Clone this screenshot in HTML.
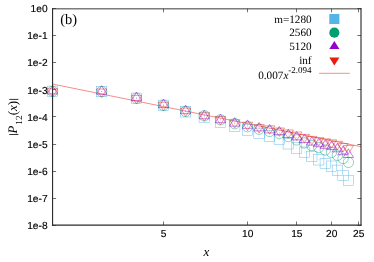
<!DOCTYPE html>
<html><head><meta charset="utf-8"><title>plot</title>
<style>
html,body{margin:0;padding:0;background:#fff;}
body{width:374px;height:262px;position:relative;overflow:hidden;font-family:"Liberation Sans",sans-serif;color:#000;}
</style></head><body>
<svg width="374" height="262" viewBox="0 0 374 262" style="position:absolute;left:0;top:0;will-change:transform;text-rendering:geometricPrecision">
<rect width="374" height="262" fill="#fff"/>
<g stroke="#333" stroke-width="0.7" fill="none">
<path d="M52.5 8.50h3.6M361.0 8.50h-3.6"/>
<path d="M52.5 35.50h3.6M361.0 35.50h-3.6"/>
<path d="M52.5 62.50h3.6M361.0 62.50h-3.6"/>
<path d="M52.5 89.50h3.6M361.0 89.50h-3.6"/>
<path d="M52.5 116.50h3.6M361.0 116.50h-3.6"/>
<path d="M52.5 144.50h3.6M361.0 144.50h-3.6"/>
<path d="M52.5 171.50h3.6M361.0 171.50h-3.6"/>
<path d="M52.5 198.50h3.6M361.0 198.50h-3.6"/>
<path d="M52.5 225.50h3.6M361.0 225.50h-3.6"/>
<path d="M163.50 225.1v-3.6M163.50 8.7v3.6"/>
<path d="M247.50 225.1v-3.6M247.50 8.7v3.6"/>
<path d="M296.50 225.1v-3.6M296.50 8.7v3.6"/>
<path d="M331.50 225.1v-3.6M331.50 8.7v3.6"/>
<path d="M358.50 225.1v-3.6M358.50 8.7v3.6"/>
</g>
<path d="M52.5 84.04L361.0 146.68" stroke="#E51E10" stroke-width="0.5" fill="none"/>
<g fill="none" stroke-width="0.44">
<rect x="47.29" y="86.10" width="10.4" height="10.4" stroke="#56B4E9"/>
<rect x="96.42" y="86.40" width="10.4" height="10.4" stroke="#56B4E9"/>
<rect x="131.27" y="93.05" width="10.4" height="10.4" stroke="#56B4E9"/>
<rect x="158.31" y="100.10" width="10.4" height="10.4" stroke="#56B4E9"/>
<rect x="180.40" y="106.60" width="10.4" height="10.4" stroke="#56B4E9"/>
<rect x="199.08" y="112.10" width="10.4" height="10.4" stroke="#56B4E9"/>
<rect x="215.26" y="116.90" width="10.4" height="10.4" stroke="#56B4E9"/>
<rect x="229.53" y="121.00" width="10.4" height="10.4" stroke="#56B4E9"/>
<rect x="242.30" y="124.80" width="10.4" height="10.4" stroke="#56B4E9"/>
<rect x="253.85" y="128.10" width="10.4" height="10.4" stroke="#56B4E9"/>
<rect x="264.39" y="130.80" width="10.4" height="10.4" stroke="#56B4E9"/>
<rect x="274.09" y="134.30" width="10.4" height="10.4" stroke="#56B4E9"/>
<rect x="283.07" y="138.60" width="10.4" height="10.4" stroke="#56B4E9"/>
<rect x="291.43" y="142.80" width="10.4" height="10.4" stroke="#56B4E9"/>
<rect x="299.25" y="147.00" width="10.4" height="10.4" stroke="#56B4E9"/>
<rect x="306.60" y="151.20" width="10.4" height="10.4" stroke="#56B4E9"/>
<rect x="313.52" y="154.60" width="10.4" height="10.4" stroke="#56B4E9"/>
<rect x="320.07" y="158.30" width="10.4" height="10.4" stroke="#56B4E9"/>
<rect x="326.29" y="161.00" width="10.4" height="10.4" stroke="#56B4E9"/>
<rect x="332.20" y="165.10" width="10.4" height="10.4" stroke="#56B4E9"/>
<rect x="337.84" y="170.20" width="10.4" height="10.4" stroke="#56B4E9"/>
<rect x="343.22" y="175.20" width="10.4" height="10.4" stroke="#56B4E9"/>
<circle cx="52.49" cy="91.30" r="5.2" stroke="#009E73"/>
<circle cx="101.62" cy="91.60" r="5.2" stroke="#009E73"/>
<circle cx="136.47" cy="98.20" r="5.2" stroke="#009E73"/>
<circle cx="163.51" cy="105.20" r="5.2" stroke="#009E73"/>
<circle cx="185.60" cy="111.40" r="5.2" stroke="#009E73"/>
<circle cx="204.28" cy="115.70" r="5.2" stroke="#009E73"/>
<circle cx="220.46" cy="119.80" r="5.2" stroke="#009E73"/>
<circle cx="234.73" cy="123.70" r="5.2" stroke="#009E73"/>
<circle cx="247.50" cy="126.70" r="5.2" stroke="#009E73"/>
<circle cx="259.05" cy="129.20" r="5.2" stroke="#009E73"/>
<circle cx="269.59" cy="131.40" r="5.2" stroke="#009E73"/>
<circle cx="279.29" cy="133.40" r="5.2" stroke="#009E73"/>
<circle cx="288.27" cy="136.50" r="5.2" stroke="#009E73"/>
<circle cx="296.63" cy="139.90" r="5.2" stroke="#009E73"/>
<circle cx="304.45" cy="143.00" r="5.2" stroke="#009E73"/>
<circle cx="311.80" cy="145.50" r="5.2" stroke="#009E73"/>
<circle cx="318.72" cy="147.60" r="5.2" stroke="#009E73"/>
<circle cx="325.27" cy="150.00" r="5.2" stroke="#009E73"/>
<circle cx="331.49" cy="152.30" r="5.2" stroke="#009E73"/>
<circle cx="337.40" cy="155.30" r="5.2" stroke="#009E73"/>
<circle cx="343.04" cy="158.50" r="5.2" stroke="#009E73"/>
<circle cx="348.42" cy="162.30" r="5.2" stroke="#009E73"/>
<path d="M52.49 85.48l-5.2 8.42h10.4z" stroke="#9400D3" stroke-width="0.52"/>
<path d="M101.62 85.78l-5.2 8.42h10.4z" stroke="#9400D3" stroke-width="0.52"/>
<path d="M136.47 92.28l-5.2 8.42h10.4z" stroke="#9400D3" stroke-width="0.52"/>
<path d="M163.51 99.18l-5.2 8.42h10.4z" stroke="#9400D3" stroke-width="0.52"/>
<path d="M185.60 105.28l-5.2 8.42h10.4z" stroke="#9400D3" stroke-width="0.52"/>
<path d="M204.28 110.40l-5.2 8.42h10.4z" stroke="#9400D3" stroke-width="0.52"/>
<path d="M220.46 114.30l-5.2 8.42h10.4z" stroke="#9400D3" stroke-width="0.52"/>
<path d="M234.73 117.70l-5.2 8.42h10.4z" stroke="#9400D3" stroke-width="0.52"/>
<path d="M247.50 119.90l-5.2 8.42h10.4z" stroke="#9400D3" stroke-width="0.52"/>
<path d="M259.05 122.50l-5.2 8.42h10.4z" stroke="#9400D3" stroke-width="0.52"/>
<path d="M269.59 124.50l-5.2 8.42h10.4z" stroke="#9400D3" stroke-width="0.52"/>
<path d="M279.29 126.50l-5.2 8.42h10.4z" stroke="#9400D3" stroke-width="0.52"/>
<path d="M288.27 129.10l-5.2 8.42h10.4z" stroke="#9400D3" stroke-width="0.52"/>
<path d="M296.63 131.50l-5.2 8.42h10.4z" stroke="#9400D3" stroke-width="0.52"/>
<path d="M304.45 134.20l-5.2 8.42h10.4z" stroke="#9400D3" stroke-width="0.52"/>
<path d="M311.80 136.70l-5.2 8.42h10.4z" stroke="#9400D3" stroke-width="0.52"/>
<path d="M318.72 138.30l-5.2 8.42h10.4z" stroke="#9400D3" stroke-width="0.52"/>
<path d="M325.27 139.90l-5.2 8.42h10.4z" stroke="#9400D3" stroke-width="0.52"/>
<path d="M331.49 141.20l-5.2 8.42h10.4z" stroke="#9400D3" stroke-width="0.52"/>
<path d="M337.40 143.40l-5.2 8.42h10.4z" stroke="#9400D3" stroke-width="0.52"/>
<path d="M343.04 146.30l-5.2 8.42h10.4z" stroke="#9400D3" stroke-width="0.52"/>
<path d="M348.42 149.10l-5.2 8.42h10.4z" stroke="#9400D3" stroke-width="0.52"/>
<path d="M52.49 97.12l-5.2 -8.42h10.4z" stroke="#E51E10"/>
<path d="M101.62 97.42l-5.2 -8.42h10.4z" stroke="#E51E10"/>
<path d="M136.47 103.82l-5.2 -8.42h10.4z" stroke="#E51E10"/>
<path d="M163.51 110.72l-5.2 -8.42h10.4z" stroke="#E51E10"/>
<path d="M185.60 116.52l-5.2 -8.42h10.4z" stroke="#E51E10"/>
<path d="M204.28 121.32l-5.2 -8.42h10.4z" stroke="#E51E10"/>
<path d="M220.46 124.82l-5.2 -8.42h10.4z" stroke="#E51E10"/>
<path d="M234.73 128.12l-5.2 -8.42h10.4z" stroke="#E51E10"/>
<path d="M247.50 130.62l-5.2 -8.42h10.4z" stroke="#E51E10"/>
<path d="M259.05 133.02l-5.2 -8.42h10.4z" stroke="#E51E10"/>
<path d="M269.59 134.22l-5.2 -8.42h10.4z" stroke="#E51E10"/>
<path d="M279.29 136.42l-5.2 -8.42h10.4z" stroke="#E51E10"/>
<path d="M288.27 138.42l-5.2 -8.42h10.4z" stroke="#E51E10"/>
<path d="M296.63 140.42l-5.2 -8.42h10.4z" stroke="#E51E10"/>
<path d="M304.45 142.82l-5.2 -8.42h10.4z" stroke="#E51E10"/>
<path d="M311.80 144.82l-5.2 -8.42h10.4z" stroke="#E51E10"/>
<path d="M318.72 146.02l-5.2 -8.42h10.4z" stroke="#E51E10"/>
<path d="M325.27 147.22l-5.2 -8.42h10.4z" stroke="#E51E10"/>
<path d="M331.49 148.22l-5.2 -8.42h10.4z" stroke="#E51E10"/>
<path d="M337.40 149.72l-5.2 -8.42h10.4z" stroke="#E51E10"/>
<path d="M343.04 152.02l-5.2 -8.42h10.4z" stroke="#E51E10"/>
<path d="M348.42 153.92l-5.2 -8.42h10.4z" stroke="#E51E10"/>
</g>
<g>
<circle cx="52.49" cy="91.30" r="0.45" fill="#56B4E9" fill-opacity="0.4"/>
<circle cx="52.49" cy="91.30" r="0.45" fill="#009E73" fill-opacity="0.4"/>
<circle cx="52.49" cy="91.30" r="0.45" fill="#9400D3" fill-opacity="0.4"/>
<circle cx="52.49" cy="91.30" r="0.45" fill="#E51E10" fill-opacity="0.4"/>
<circle cx="101.62" cy="91.60" r="0.45" fill="#56B4E9" fill-opacity="0.4"/>
<circle cx="101.62" cy="91.60" r="0.45" fill="#009E73" fill-opacity="0.4"/>
<circle cx="101.62" cy="91.60" r="0.45" fill="#9400D3" fill-opacity="0.4"/>
<circle cx="101.62" cy="91.60" r="0.45" fill="#E51E10" fill-opacity="0.4"/>
<circle cx="136.47" cy="98.25" r="0.45" fill="#56B4E9" fill-opacity="0.4"/>
<circle cx="136.47" cy="98.20" r="0.45" fill="#009E73" fill-opacity="0.4"/>
<circle cx="136.47" cy="98.10" r="0.45" fill="#9400D3" fill-opacity="0.4"/>
<circle cx="136.47" cy="98.00" r="0.45" fill="#E51E10" fill-opacity="0.4"/>
<circle cx="163.51" cy="105.30" r="0.45" fill="#56B4E9" fill-opacity="0.4"/>
<circle cx="163.51" cy="105.20" r="0.45" fill="#009E73" fill-opacity="0.4"/>
<circle cx="163.51" cy="105.00" r="0.45" fill="#9400D3" fill-opacity="0.4"/>
<circle cx="163.51" cy="104.90" r="0.45" fill="#E51E10" fill-opacity="0.4"/>
<circle cx="185.60" cy="111.80" r="0.45" fill="#56B4E9" fill-opacity="0.4"/>
<circle cx="185.60" cy="111.40" r="0.45" fill="#009E73" fill-opacity="0.4"/>
<circle cx="185.60" cy="111.10" r="0.45" fill="#9400D3" fill-opacity="0.4"/>
<circle cx="185.60" cy="110.70" r="0.45" fill="#E51E10" fill-opacity="0.4"/>
<circle cx="204.28" cy="117.30" r="0.45" fill="#56B4E9" fill-opacity="0.4"/>
<circle cx="204.28" cy="115.70" r="0.45" fill="#009E73" fill-opacity="0.4"/>
<circle cx="204.28" cy="116.22" r="0.45" fill="#9400D3" fill-opacity="0.4"/>
<circle cx="204.28" cy="115.50" r="0.45" fill="#E51E10" fill-opacity="0.4"/>
<circle cx="220.46" cy="122.10" r="0.45" fill="#56B4E9" fill-opacity="0.4"/>
<circle cx="220.46" cy="119.80" r="0.45" fill="#009E73" fill-opacity="0.4"/>
<circle cx="220.46" cy="120.12" r="0.45" fill="#9400D3" fill-opacity="0.4"/>
<circle cx="220.46" cy="119.00" r="0.45" fill="#E51E10" fill-opacity="0.4"/>
<circle cx="234.73" cy="126.20" r="0.45" fill="#56B4E9" fill-opacity="0.4"/>
<circle cx="234.73" cy="123.70" r="0.45" fill="#009E73" fill-opacity="0.4"/>
<circle cx="234.73" cy="123.52" r="0.45" fill="#9400D3" fill-opacity="0.4"/>
<circle cx="234.73" cy="122.30" r="0.45" fill="#E51E10" fill-opacity="0.4"/>
<circle cx="247.50" cy="130.00" r="0.45" fill="#56B4E9" fill-opacity="0.4"/>
<circle cx="247.50" cy="126.70" r="0.45" fill="#009E73" fill-opacity="0.4"/>
<circle cx="247.50" cy="125.72" r="0.45" fill="#9400D3" fill-opacity="0.4"/>
<circle cx="247.50" cy="124.80" r="0.45" fill="#E51E10" fill-opacity="0.4"/>
<circle cx="259.05" cy="133.30" r="0.45" fill="#56B4E9" fill-opacity="0.4"/>
<circle cx="259.05" cy="129.20" r="0.45" fill="#009E73" fill-opacity="0.4"/>
<circle cx="259.05" cy="128.32" r="0.45" fill="#9400D3" fill-opacity="0.4"/>
<circle cx="259.05" cy="127.20" r="0.45" fill="#E51E10" fill-opacity="0.4"/>
<circle cx="269.59" cy="136.00" r="0.45" fill="#56B4E9" fill-opacity="0.4"/>
<circle cx="269.59" cy="131.40" r="0.45" fill="#009E73" fill-opacity="0.4"/>
<circle cx="269.59" cy="130.32" r="0.45" fill="#9400D3" fill-opacity="0.4"/>
<circle cx="269.59" cy="128.40" r="0.45" fill="#E51E10" fill-opacity="0.4"/>
<circle cx="279.29" cy="139.50" r="0.45" fill="#56B4E9" fill-opacity="0.4"/>
<circle cx="279.29" cy="133.40" r="0.45" fill="#009E73" fill-opacity="0.4"/>
<circle cx="279.29" cy="132.32" r="0.45" fill="#9400D3" fill-opacity="0.4"/>
<circle cx="279.29" cy="130.60" r="0.45" fill="#E51E10" fill-opacity="0.4"/>
<circle cx="288.27" cy="143.80" r="0.45" fill="#56B4E9" fill-opacity="0.4"/>
<circle cx="288.27" cy="136.50" r="0.45" fill="#009E73" fill-opacity="0.4"/>
<circle cx="288.27" cy="134.92" r="0.45" fill="#9400D3" fill-opacity="0.4"/>
<circle cx="288.27" cy="132.60" r="0.45" fill="#E51E10" fill-opacity="0.4"/>
<circle cx="296.63" cy="148.00" r="0.45" fill="#56B4E9" fill-opacity="0.4"/>
<circle cx="296.63" cy="139.90" r="0.45" fill="#009E73" fill-opacity="0.4"/>
<circle cx="296.63" cy="137.32" r="0.45" fill="#9400D3" fill-opacity="0.4"/>
<circle cx="296.63" cy="134.60" r="0.45" fill="#E51E10" fill-opacity="0.4"/>
<circle cx="304.45" cy="152.20" r="0.45" fill="#56B4E9" fill-opacity="0.4"/>
<circle cx="304.45" cy="143.00" r="0.45" fill="#009E73" fill-opacity="0.4"/>
<circle cx="304.45" cy="140.02" r="0.45" fill="#9400D3" fill-opacity="0.4"/>
<circle cx="304.45" cy="137.00" r="0.45" fill="#E51E10" fill-opacity="0.4"/>
<circle cx="311.80" cy="156.40" r="0.45" fill="#56B4E9" fill-opacity="0.4"/>
<circle cx="311.80" cy="145.50" r="0.45" fill="#009E73" fill-opacity="0.4"/>
<circle cx="311.80" cy="142.52" r="0.45" fill="#9400D3" fill-opacity="0.4"/>
<circle cx="311.80" cy="139.00" r="0.45" fill="#E51E10" fill-opacity="0.4"/>
<circle cx="318.72" cy="159.80" r="0.45" fill="#56B4E9" fill-opacity="0.4"/>
<circle cx="318.72" cy="147.60" r="0.45" fill="#009E73" fill-opacity="0.4"/>
<circle cx="318.72" cy="144.12" r="0.45" fill="#9400D3" fill-opacity="0.4"/>
<circle cx="318.72" cy="140.20" r="0.45" fill="#E51E10" fill-opacity="0.4"/>
<circle cx="325.27" cy="163.50" r="0.45" fill="#56B4E9" fill-opacity="0.4"/>
<circle cx="325.27" cy="150.00" r="0.45" fill="#009E73" fill-opacity="0.4"/>
<circle cx="325.27" cy="145.72" r="0.45" fill="#9400D3" fill-opacity="0.4"/>
<circle cx="325.27" cy="141.40" r="0.45" fill="#E51E10" fill-opacity="0.4"/>
<circle cx="331.49" cy="166.20" r="0.45" fill="#56B4E9" fill-opacity="0.4"/>
<circle cx="331.49" cy="152.30" r="0.45" fill="#009E73" fill-opacity="0.4"/>
<circle cx="331.49" cy="147.02" r="0.45" fill="#9400D3" fill-opacity="0.4"/>
<circle cx="331.49" cy="142.40" r="0.45" fill="#E51E10" fill-opacity="0.4"/>
<circle cx="337.40" cy="170.30" r="0.45" fill="#56B4E9" fill-opacity="0.4"/>
<circle cx="337.40" cy="155.30" r="0.45" fill="#009E73" fill-opacity="0.4"/>
<circle cx="337.40" cy="149.22" r="0.45" fill="#9400D3" fill-opacity="0.4"/>
<circle cx="337.40" cy="143.90" r="0.45" fill="#E51E10" fill-opacity="0.4"/>
<circle cx="343.04" cy="175.40" r="0.45" fill="#56B4E9" fill-opacity="0.4"/>
<circle cx="343.04" cy="158.50" r="0.45" fill="#009E73" fill-opacity="0.4"/>
<circle cx="343.04" cy="152.12" r="0.45" fill="#9400D3" fill-opacity="0.4"/>
<circle cx="343.04" cy="146.20" r="0.45" fill="#E51E10" fill-opacity="0.4"/>
<circle cx="348.42" cy="180.40" r="0.45" fill="#56B4E9" fill-opacity="0.4"/>
<circle cx="348.42" cy="162.30" r="0.45" fill="#009E73" fill-opacity="0.4"/>
<circle cx="348.42" cy="154.92" r="0.45" fill="#9400D3" fill-opacity="0.4"/>
<circle cx="348.42" cy="148.10" r="0.45" fill="#E51E10" fill-opacity="0.4"/>
</g>
<g fill="none" stroke-linecap="square">
<path d="M52.55 8.85V225.2" stroke="#2e2e2e" stroke-width="1.15"/>
<path d="M52.55 8.85H361" stroke="#222" stroke-width="0.9"/>
<path d="M361 8.85V225.2" stroke="#111" stroke-width="1.0"/>
<path d="M52.55 225.2H361" stroke="#2a2a2a" stroke-width="1.2"/>
</g>
<rect x="329.3" y="13.95" width="10.1" height="10.1" fill="#56B4E9"/>
<circle cx="334.35" cy="32.65" r="5.05" fill="#009E73"/>
<path d="M334.35 40.9l-5.05 8h10.1z" fill="#9400D3"/>
<path d="M334.35 65.6l-5.05 -8h10.1z" fill="#E51E10"/>
<path d="M319.1 73.3H349.8" stroke="#E51E10" stroke-width="0.5"/>
<g font-family="Liberation Sans, sans-serif" font-size="10.2" fill="#000" stroke="#000" stroke-width="0.15">
<text x="47.6" y="12.20" text-anchor="end">1e0</text>
<text x="47.6" y="39.32" text-anchor="end">1e-1</text>
<text x="47.6" y="66.44" text-anchor="end">1e-2</text>
<text x="47.6" y="93.56" text-anchor="end">1e-3</text>
<text x="47.6" y="120.68" text-anchor="end">1e-4</text>
<text x="47.6" y="147.80" text-anchor="end">1e-5</text>
<text x="47.6" y="174.92" text-anchor="end">1e-6</text>
<text x="47.6" y="202.04" text-anchor="end">1e-7</text>
<text x="47.6" y="229.16" text-anchor="end">1e-8</text>
<text x="163.71" y="236.6" text-anchor="middle">5</text>
<text x="247.70" y="236.6" text-anchor="middle">10</text>
<text x="296.83" y="236.6" text-anchor="middle">15</text>
<text x="331.69" y="236.6" text-anchor="middle">20</text>
<text x="358.73" y="236.6" text-anchor="middle">25</text>
</g>
<g font-family="Liberation Serif, serif" font-size="11.2" fill="#000" text-anchor="end">
<text x="311.6" y="22.6">m=1280</text>
<text x="311.6" y="36.3">2560</text>
<text x="311.6" y="50.0">5120</text>
<text x="311.6" y="63.7">inf</text>
<text x="311.6" y="78.8">0.007<tspan font-style="italic">x</tspan><tspan font-size="9" dy="-5.5">-2.094</tspan></text>
</g>
<text font-family="Liberation Serif, serif" font-size="14.5" x="60.2" y="23.8">(b)</text>
<text font-family="Liberation Serif, serif" font-size="13" font-style="italic" x="206.4" y="255.7" text-anchor="middle">x</text>
<text font-family="Liberation Serif, serif" font-size="13" transform="translate(17.3 133.4) rotate(-90)"><tspan font-style="italic">P</tspan><tspan font-size="9.3" dy="5.1" dx="0.7">12</tspan><tspan dy="-5.1" dx="0.2">(</tspan><tspan font-style="italic">x</tspan>)</text>
<path d="M9.3 99.4H18.4M9.3 134.5H18.4" stroke="#111" stroke-width="0.85" fill="none"/>
</svg>
</body></html>
